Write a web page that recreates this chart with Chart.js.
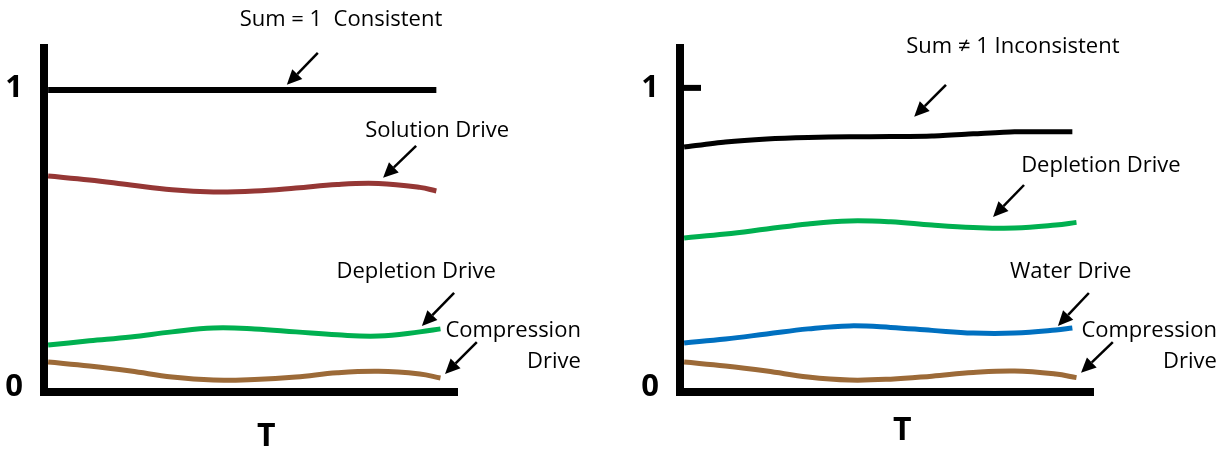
<!DOCTYPE html>
<html>
<head>
<meta charset="utf-8">
<script src="https://cdn.jsdelivr.net/npm/chart.js@4.4.1/dist/chart.umd.min.js"></script>
<style>
  html, body { margin: 0; padding: 0; background: #fff; }
  #wrap { position: relative; width: 1225px; height: 450px; }
  canvas { position: absolute; top: 0; }
  #left { left: 0; }
  #right { left: 612px; }
</style>
</head>
<body>
<div id="wrap">
  <canvas id="left" width="612" height="450"></canvas>
  <canvas id="right" width="613" height="450"></canvas>
</div>
<script>
// T samples (the curves stop a little short of the axis end)
const tShort = [0, 1, 2, 3, 4, 5, 6, 7, 8, 9, 9.4];
const tLong = [0, 1, 2, 3, 4, 5, 6, 7, 8, 9, 9.5];
const tSum = [0, 9.4];

const yTickValues = [0, 1];
const yTickLabels = ['0', '1'];
const xAxisLabel = 'T';

// left sketch: sum = 1
const leftSum = [1, 1];
const leftSolution = [0.712, 0.699, 0.682, 0.666, 0.659, 0.662, 0.672, 0.684, 0.687, 0.674, 0.662];
const leftDepletion = [0.147, 0.161, 0.174, 0.191, 0.204, 0.201, 0.191, 0.181, 0.177, 0.191, 0.201];
const leftCompression = [0.090, 0.077, 0.060, 0.040, 0.030, 0.032, 0.040, 0.054, 0.059, 0.050, 0.037];

// right sketch: sum != 1
const rightSum = [0.809, 0.826, 0.836, 0.841, 0.843, 0.844, 0.846, 0.853, 0.860, 0.860, 0.860];
const rightDepletion = [0.505, 0.518, 0.535, 0.552, 0.562, 0.559, 0.548, 0.540, 0.538, 0.548, 0.557];
const rightWater = [0.154, 0.167, 0.184, 0.201, 0.211, 0.206, 0.196, 0.187, 0.187, 0.197, 0.204];
const rightCompression = [0.090, 0.077, 0.060, 0.040, 0.030, 0.033, 0.043, 0.055, 0.060, 0.050, 0.038];

const TEXT_FONT = '22px "Open Sans"';
const BOLD = { family: 'Open Sans', weight: 'bold' };

function pts(ts, vs) {
    return ts.map((t, i) => ({ x: t, y: vs[i] }));
}

function line(ts, vs, color, width, tension) {
    return {
        data: pts(ts, vs),
        borderColor: color,
        borderWidth: width,
        pointRadius: 0,
        tension: tension == null ? 0.4 : tension,
        fill: false
    };
}

function drawArrow(ctx, x1, y1, x2, y2) {
    const a = Math.atan2(y2 - y1, x2 - x1);
    const head = 15, half = 7;
    const bx = x2 - head * Math.cos(a), by = y2 - head * Math.sin(a);
    ctx.beginPath();
    ctx.moveTo(x1, y1);
    ctx.lineTo(bx, by);
    ctx.lineWidth = 2.5;
    ctx.stroke();
    ctx.beginPath();
    ctx.moveTo(x2, y2);
    ctx.lineTo(bx + half * Math.sin(a), by - half * Math.cos(a));
    ctx.lineTo(bx - half * Math.sin(a), by + half * Math.cos(a));
    ctx.closePath();
    ctx.fill();
}

// texts and arrows, placed in T / fraction units
function notesPlugin(notes) {
    return {
        id: 'notes',
        afterDraw(chart) {
            const { ctx, chartArea } = chart;
            const sx = chart.scales.x, sy = chart.scales.y;
            ctx.save();
            ctx.fillStyle = '#000';
            ctx.strokeStyle = '#000';
            ctx.font = TEXT_FONT;
            ctx.textBaseline = 'middle';
            notes.labels.forEach(l => {
                ctx.textAlign = l.align || 'center';
                ctx.fillText(l.text, sx.getPixelForValue(l.x), sy.getPixelForValue(l.y));
            });
            notes.arrows.forEach(a => {
                drawArrow(ctx, sx.getPixelForValue(a[0]), sy.getPixelForValue(a[1]),
                    sx.getPixelForValue(a[2]), sy.getPixelForValue(a[3]));
            });
            if (notes.tickAtOne) {
                const py = sy.getPixelForValue(1) - 2;
                ctx.lineWidth = 6;
                ctx.beginPath();
                ctx.moveTo(chartArea.left, py);
                ctx.lineTo(chartArea.left + 21, py);
                ctx.stroke();
            }
            ctx.restore();
        }
    };
}

function makeChart(id, datasets, notes, yAxisWidth, rightPad, tPad) {
    return new Chart(document.getElementById(id), {
        type: 'line',
        data: { datasets: datasets },
        options: {
            responsive: false,
            animation: false,
            layout: { padding: { top: 48, right: rightPad, left: 0, bottom: 0 } },
            plugins: { legend: { display: false }, tooltip: { enabled: false } },
            scales: {
                x: {
                    type: 'linear',
                    min: -0.1,
                    max: 9.9,
                    afterFit(s) { s.height = 58; },
                    afterBuildTicks(s) { s.ticks = [{ value: 5.28 }]; },
                    ticks: {
                        callback: () => xAxisLabel,
                        font: Object.assign({ size: 32 }, BOLD),
                        color: '#000',
                        padding: tPad,
                        autoSkip: false,
                        maxRotation: 0
                    },
                    grid: { display: false, drawTicks: false },
                    border: { color: '#000', width: 8 }
                },
                y: {
                    min: -0.01,
                    max: 1.14,
                    afterFit(s) { s.width = yAxisWidth; },
                    afterBuildTicks(s) { s.ticks = yTickValues.map(v => ({ value: v })); },
                    ticks: {
                        callback: (v, i) => yTickLabels[i],
                        font: Object.assign({ size: 31 }, BOLD),
                        color: '#000',
                        padding: 21,
                        labelOffset: -2,
                        autoSkip: false
                    },
                    grid: { display: false, drawTicks: false },
                    border: { color: '#000', width: 8 }
                }
            }
        },
        plugins: [notesPlugin(notes)]
    });
}

makeChart('left', [
    line(tSum, leftSum, '#000000', 6, 0),
    line(tShort, leftSolution, '#953735', 5),
    line(tLong, leftDepletion, '#00B050', 5),
    line(tLong, leftCompression, '#9C6A38', 5)
], {
    labels: [
        { text: 'Sum = 1  Consistent', x: 7.09, y: 1.236 },
        { text: 'Solution Drive', x: 9.42, y: 0.863 },
        { text: 'Depletion Drive', x: 8.91, y: 0.391 },
        { text: 'Compression', x: 12.90, y: 0.194, align: 'right' },
        { text: 'Drive', x: 12.90, y: 0.090, align: 'right' }
    ],
    arrows: [
        [6.53, 1.124, 5.78, 1.017],
        [8.91, 0.813, 8.11, 0.706],
        [9.83, 0.321, 9.05, 0.211],
        [10.38, 0.157, 9.61, 0.050]
    ],
    tickAtOne: false
}, 44, 155, 26);

makeChart('right', [
    line(tShort, rightSum, '#000000', 5, 0.25),
    line(tLong, rightDepletion, '#00B050', 5),
    line(tShort, rightWater, '#0070C0', 5),
    line(tLong, rightCompression, '#9C6A38', 5)
], {
    labels: [
        { text: 'Sum \u2260 1 Inconsistent', x: 7.96, y: 1.144 },
        { text: 'Depletion Drive', x: 10.09, y: 0.746 },
        { text: 'Water Drive', x: 9.36, y: 0.391 },
        { text: 'Compression', x: 12.90, y: 0.194, align: 'right' },
        { text: 'Drive', x: 12.90, y: 0.090, align: 'right' }
    ],
    arrows: [
        [6.34, 1.017, 5.57, 0.910],
        [8.23, 0.682, 7.48, 0.575],
        [9.80, 0.321, 9.05, 0.211],
        [10.38, 0.157, 9.61, 0.054]
    ],
    tickAtOne: true
}, 68, 132, 20);
</script>
</body>
</html>
